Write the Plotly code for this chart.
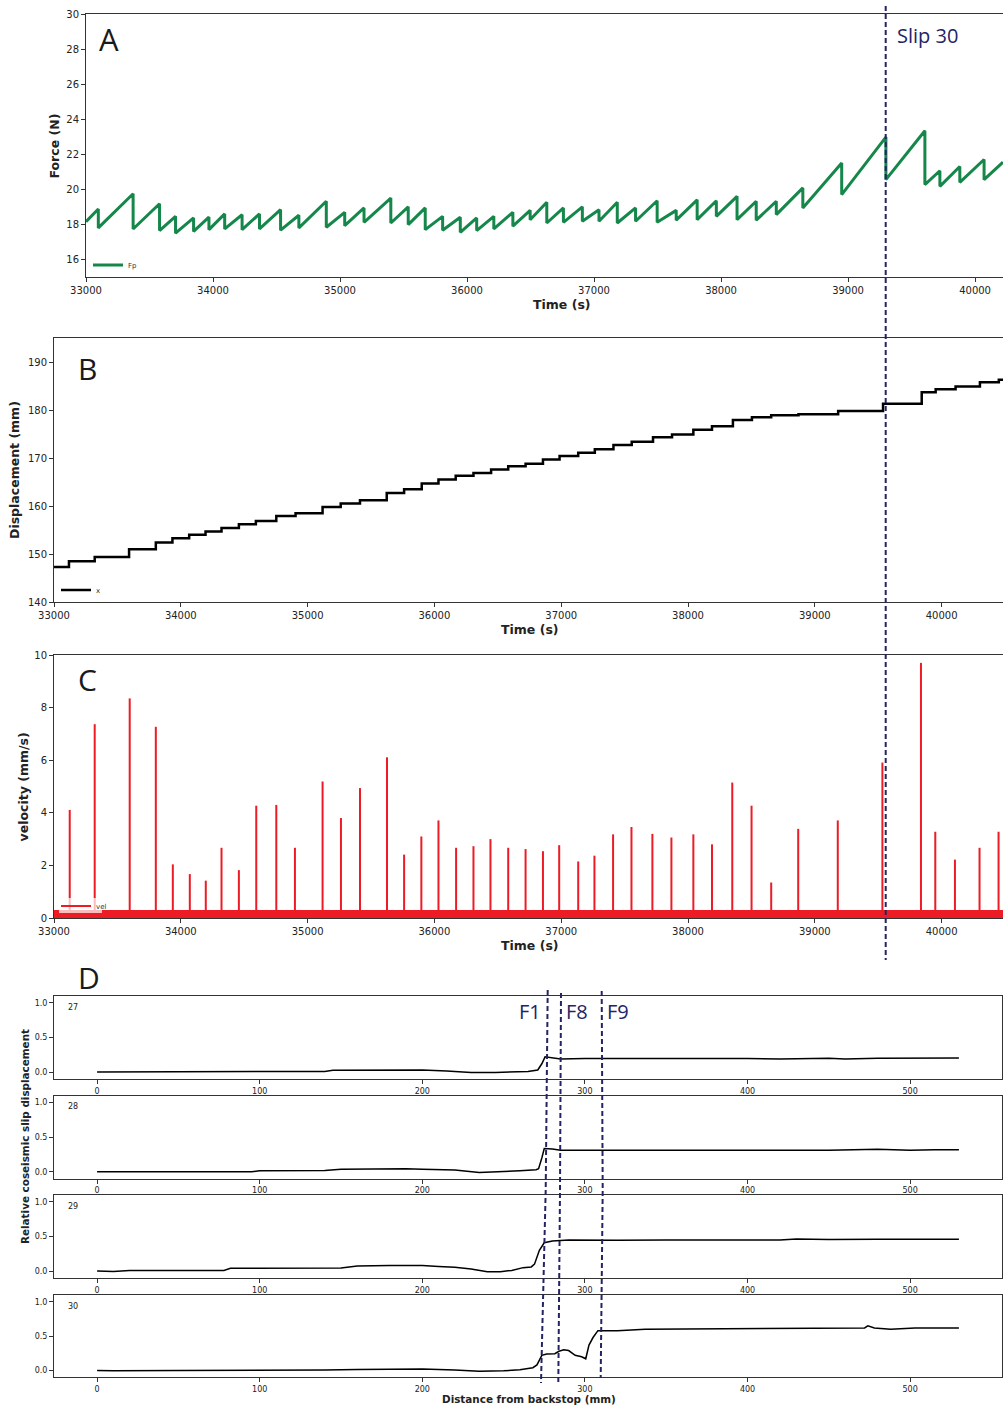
import plotly.graph_objects as go

# ---------------- DATA ----------------
# Panel A : shear force Fp (stick-slip saw-tooth), peak before each slip and value after the drop
fp_start_time, fp_start_force = 33000, 18.15
fp_end_time, fp_end_force = 40220, 21.55
fp_peak_time = [33097, 33371, 33579, 33705, 33847, 33968, 34092, 34229, 34366, 34532,
                34676, 34892, 35037, 35189, 35400, 35537, 35671, 35808, 35947, 36076,
                36211, 36361, 36497, 36628, 36759, 36908, 37039, 37183, 37327, 37497,
                37647, 37812, 37963, 38126, 38277, 38435, 38644, 38950, 39298, 39605,
                39723, 39880, 40071]
fp_peak_force = [18.88, 19.75, 19.18, 18.46, 18.37, 18.42, 18.6, 18.55, 18.6, 18.84,
                 18.52, 19.32, 18.69, 18.94, 19.5, 19.0, 18.94, 18.46, 18.41, 18.37,
                 18.46, 18.69, 18.8, 19.26, 18.94, 19.0, 18.84, 19.26, 18.94, 19.35,
                 18.8, 19.4, 19.35, 19.6, 19.32, 19.32, 20.08, 21.5, 22.98, 23.34,
                 21.06, 21.3, 21.7]
fp_drop_force = [17.8, 17.74, 17.65, 17.5, 17.6, 17.7, 17.74, 17.7, 17.74, 17.67,
                 17.8, 17.84, 17.93, 18.12, 18.08, 17.99, 17.7, 17.67, 17.55, 17.65,
                 17.74, 17.9, 18.27, 18.08, 18.12, 18.18, 18.18, 18.08, 18.18, 18.12,
                 18.24, 18.27, 18.46, 18.27, 18.24, 18.56, 18.94, 19.7, 20.55, 20.27,
                 20.17, 20.4, 20.55]

# Panel B : displacement x (staircase) - start time of each level and level
x_step_time = [33000, 33118, 33321, 33592, 33803, 33934, 34066, 34195, 34321, 34458,
               34592, 34753, 34905, 35118, 35261, 35413, 35624, 35761, 35900, 36032,
               36168, 36308, 36447, 36582, 36719, 36856, 36987, 37134, 37265, 37412,
               37556, 37724, 37874, 38042, 38189, 38354, 38504, 38656, 38871, 39184,
               39538, 39843, 39953, 40110, 40302, 40451]
x_level = [147.3, 148.5, 149.4, 151.0, 152.4, 153.3, 154.0, 154.7, 155.4, 156.2,
           156.9, 157.9, 158.5, 159.8, 160.5, 161.2, 162.7, 163.5, 164.7, 165.5,
           166.3, 166.9, 167.6, 168.3, 168.8, 169.7, 170.4, 171.1, 171.8, 172.7,
           173.4, 174.3, 174.9, 175.9, 176.6, 177.9, 178.5, 178.9, 179.1, 179.8,
           181.3, 183.7, 184.3, 184.9, 185.8, 186.3]
x_end_time = 40484

# Panel C : velocity spikes and background noise level
vel_spike_time = [33124, 33321, 33597, 33803, 33937, 34071, 34197, 34321, 34458,
                  34595, 34753, 34900, 35118, 35263, 35413, 35626, 35761, 35897, 36032,
                  36171, 36308, 36442, 36582, 36719, 36856, 36984, 37134, 37262, 37409,
                  37554, 37719, 37869, 38042, 38189, 38349, 38501, 38656, 38869, 39181,
                  39533, 39837, 39950, 40105, 40299, 40449]
vel_spike_value = [4.11, 7.37, 8.35, 7.27, 2.04, 1.67, 1.42, 2.67, 1.82,
                   4.27, 4.30, 2.67, 5.19, 3.80, 4.94, 6.11, 2.41, 3.10, 3.71,
                   2.67, 2.73, 3.00, 2.67, 2.62, 2.54, 2.77, 2.15, 2.37, 3.18,
                   3.46, 3.20, 3.06, 3.18, 2.80, 5.15, 4.27, 1.35, 3.39, 3.71,
                   5.91, 9.70, 3.28, 2.22, 2.67, 3.28]
vel_noise_time = [33000, 40484]
vel_noise_value = [0.27, 0.27]

# Panel D : relative coseismic slip displacement vs distance from backstop
slip_labels = ["27", "28", "29", "30"]
slip27_x = [0, 20, 60, 100, 140, 145, 160, 180, 200, 215, 230, 245, 255, 265, 271, 273.5, 275.5,
            278, 285, 300, 330, 360, 400, 420, 450, 460, 480, 500, 515, 530]
slip27_y = [0.0, 0.0, 0.0, 0.005, 0.01, 0.025, 0.025, 0.03, 0.03, 0.015, -0.005, -0.005, 0.005,
            0.01, 0.03, 0.12, 0.22, 0.21, 0.19, 0.195, 0.19, 0.195, 0.195, 0.19, 0.2, 0.19, 0.2,
            0.205, 0.2, 0.205]
slip28_x = [0, 50, 95, 100, 140, 150, 165, 190, 200, 220, 235, 250, 260, 270, 271.5, 273.5, 275,
            280, 285, 300, 350, 400, 450, 480, 500, 515, 530]
slip28_y = [0.0, 0.0, 0.0, 0.015, 0.02, 0.035, 0.04, 0.045, 0.035, 0.025, -0.01, 0.0, 0.015, 0.03,
            0.045, 0.2, 0.335, 0.33, 0.31, 0.31, 0.31, 0.315, 0.31, 0.325, 0.31, 0.32, 0.32]
slip29_x = [0, 10, 20, 50, 78, 82, 90, 100, 140, 150, 155, 160, 180, 200, 210, 220, 230, 240, 248,
            255, 262, 267, 269, 272, 275, 280, 290, 300, 320, 350, 400, 420, 430, 450, 480, 500,
            515, 530]
slip29_y = [0.0, -0.005, 0.01, 0.01, 0.01, 0.04, 0.04, 0.045, 0.045, 0.045, 0.06, 0.075, 0.08,
            0.08, 0.065, 0.055, 0.03, -0.01, -0.01, 0.01, 0.05, 0.06, 0.1, 0.3, 0.41, 0.435, 0.45,
            0.445, 0.445, 0.45, 0.445, 0.45, 0.465, 0.455, 0.46, 0.465, 0.46, 0.46]
slip30_x = [0, 10, 50, 100, 140, 160, 190, 200, 220, 235, 250, 260, 268, 270.5, 273.5, 276.5,
            281.5, 284, 287, 290, 294, 298, 300.5, 302.5, 305, 308, 310, 320, 337, 370, 400, 440,
            472, 474, 478, 488, 503, 518, 530]
slip30_y = [0.0, -0.005, 0.0, 0.0, 0.005, 0.015, 0.025, 0.02, 0.005, -0.01, -0.005, 0.01, 0.04,
            0.08, 0.22, 0.24, 0.245, 0.28, 0.3, 0.29, 0.22, 0.2, 0.17, 0.37, 0.48, 0.58, 0.58,
            0.58, 0.6, 0.605, 0.61, 0.615, 0.62, 0.65, 0.62, 0.6, 0.62, 0.62, 0.62]

time_ticks = [33000, 34000, 35000, 36000, 37000, 38000, 39000, 40000]
force_ticks = [16, 18, 20, 22, 24, 26, 28, 30]
disp_ticks = [140, 150, 160, 170, 180, 190]
vel_ticks = [0, 2, 4, 6, 8, 10]
dist_ticks = [0, 100, 200, 300, 400, 500]
slip_ticks = [0.0, 0.5, 1.0]

# ---------------- LAYOUT HELPERS ----------------
W, H = 1003, 1408
def px(x):
    return x / W
def py(y):
    return 1 - y / H

GREEN = "#16874a"
RED = "#ed1c24"
NAVY = "#232366"
FONT = "DejaVu Sans"

fig = go.Figure()

# Panel A trace
ta, fa = [fp_start_time], [fp_start_force]
for t, p, d in zip(fp_peak_time, fp_peak_force, fp_drop_force):
    ta += [t, t]
    fa += [p, d]
ta.append(fp_end_time)
fa.append(fp_end_force)
fig.add_trace(go.Scatter(x=ta, y=fa, mode="lines", name="Fp",
                         line=dict(color=GREEN, width=3), xaxis="x", yaxis="y",
                         legend="legend"))

# Panel B trace
fig.add_trace(go.Scatter(x=x_step_time + [x_end_time], y=x_level + [x_level[-1]],
                         mode="lines", name="x", line=dict(color="black", width=2.5, shape="hv"),
                         xaxis="x2", yaxis="y2", legend="legend2"))

# Panel C traces
fig.add_trace(go.Scatter(x=vel_noise_time, y=vel_noise_value, mode="lines", fill="tozeroy",
                         fillcolor=RED, line=dict(color=RED, width=2), showlegend=False,
                         xaxis="x3", yaxis="y3"))
sx, sy = [], []
for t, v in zip(vel_spike_time, vel_spike_value):
    sx += [t, t, None]
    sy += [0, v, None]
fig.add_trace(go.Scatter(x=sx, y=sy, mode="lines", name="vel", line=dict(color=RED, width=2),
                         xaxis="x3", yaxis="y3", legend="legend3"))

# Panel D traces
slip_series = [(slip27_x, slip27_y), (slip28_x, slip28_y), (slip29_x, slip29_y), (slip30_x, slip30_y)]
for i, (sxv, syv) in enumerate(slip_series):
    fig.add_trace(go.Scatter(x=sxv, y=syv, mode="lines", line=dict(color="black", width=1.5),
                             showlegend=False, xaxis=f"x{4+i}", yaxis=f"y{4+i}"))

common = dict(showgrid=False, zeroline=False, showline=True, linecolor="#333", linewidth=1,
              ticks="outside", ticklen=4, tickwidth=1, tickcolor="#333", automargin=False)
tfont = dict(family=FONT, size=10, color="#222")
dfont = dict(family=FONT, size=8, color="#222")
lfont = dict(family=FONT, size=7, color="#333")

layout = dict(
    width=W, height=H,
    margin=dict(l=0, r=0, t=0, b=0, pad=0, autoexpand=False),
    paper_bgcolor="white", plot_bgcolor="white",
    font=dict(family=FONT, color="#222"),
    xaxis=dict(common, domain=[px(86), 1], range=[33000, 40220], tickvals=time_ticks,
               tickformat="d", tickfont=tfont, anchor="y", mirror=True),
    yaxis=dict(common, domain=[py(277), py(14)], range=[15, 30], tickvals=force_ticks,
               tickfont=tfont, anchor="x"),
    xaxis2=dict(common, domain=[px(54), 1], range=[33000, 40484], tickvals=time_ticks,
                tickformat="d", tickfont=tfont, anchor="y2", mirror=True),
    yaxis2=dict(common, domain=[py(602), py(338)], range=[140, 195], tickvals=disp_ticks,
                tickfont=tfont, anchor="x2"),
    xaxis3=dict(common, domain=[px(54), 1], range=[33000, 40484], tickvals=time_ticks,
                tickformat="d", tickfont=tfont, anchor="y3", mirror=True),
    yaxis3=dict(common, domain=[py(918), py(655)], range=[0, 10], tickvals=vel_ticks,
                tickfont=tfont, anchor="x3"),
    legend=dict(x=px(88), y=py(265), xanchor="left", yanchor="middle",
                font=lfont, bgcolor="rgba(0,0,0,0)", itemwidth=30),
    legend2=dict(x=px(56), y=py(590), xanchor="left", yanchor="middle",
                 font=lfont, bgcolor="rgba(0,0,0,0)", itemwidth=30),
    legend3=dict(x=px(56), y=py(906), xanchor="left", yanchor="middle",
                 font=lfont, bgcolor="rgba(0,0,0,0)", itemwidth=30),
)

d_tops = [996, 1095.7, 1195, 1295]
d_bots = [1079, 1178.7, 1278, 1377.3]
for i in range(4):
    n = 4 + i
    layout[f"xaxis{n}"] = dict(common, domain=[px(54), px(1002)], range=[-26.5, 556.5],
                               tickvals=dist_ticks, tickfont=dfont, anchor=f"y{n}", mirror=True)
    layout[f"yaxis{n}"] = dict(common, domain=[py(d_bots[i]), py(d_tops[i])], range=[-0.1, 1.1],
                               tickvals=slip_ticks, tickformat=".1f", tickfont=dfont,
                               anchor=f"x{n}", mirror=True)

fig.update_layout(**layout)

# ---------------- ANNOTATIONS ----------------
ann = []
def text(x, y, s, size, color="#222", bold=False, angle=0, family=FONT, xanchor="center"):
    ann.append(dict(x=px(x), y=py(y), xref="paper", yref="paper", text=s, showarrow=False,
                    xanchor=xanchor, yanchor="middle", textangle=angle,
                    font=dict(family=family, size=size, color=color,
                              weight="bold" if bold else "normal")))

# axis titles
text(53.5, 146, "Force (N)", 12.5, bold=True, angle=-90)
text(562, 305, "Time (s)", 12.5, bold=True)
text(15, 470, "Displacement (mm)", 12.5, bold=True, angle=-90)
text(530, 629, "Time (s)", 12.5, bold=True)
text(22.5, 787, "velocity (mm/s)", 12.5, bold=True, angle=-90)
text(530, 945, "Time (s)", 12.5, bold=True)
text(25, 1137, "Relative coseismic slip displacement", 10.4, bold=True, angle=-90)
text(528.7, 1399, "Distance from backstop (mm)", 10.4, bold=True)

# panel letters
LFONT = "Open Sans"
text(108.5, 39, "A", 31, color="#1a1a1a", family=LFONT)
text(87, 368.5, "B", 30, color="#1a1a1a", family=LFONT)
text(87.5, 679.5, "C", 30, color="#1a1a1a", family=LFONT)
text(89, 977, "D", 30, color="#1a1a1a", family=LFONT)
text(927, 36, "Slip 30", 20, color=NAVY, family=LFONT)
text(530, 1011, "F1", 20, color=NAVY, family=LFONT)
text(577, 1011, "F8", 20, color=NAVY, family=LFONT)
text(618, 1011, "F9", 20, color=NAVY, family=LFONT)

for i, lab in enumerate(slip_labels):
    text(65.5, d_tops[i] + 11, lab, 8, xanchor="left")

fig.update_layout(annotations=ann)

# ---------------- SHAPES (dashed markers, legend box) ----------------
def path(points):
    return "M " + " L ".join(f"{px(x):.5f},{py(y):.5f}" for x, y in points)

dash_line = dict(color=NAVY, width=2, dash="5px,3px")
shapes = [
    dict(type="rect", xref="paper", yref="paper", x0=px(59), x1=px(102), y0=py(913), y1=py(898),
         fillcolor="rgba(255,255,255,0.7)", line=dict(width=0), layer="above"),
    dict(type="line", xref="paper", yref="paper", x0=px(885.7), x1=px(885.7),
         y0=py(6), y1=py(960), line=dash_line),
    dict(type="path", xref="paper", yref="paper", path=path([(547.7, 990), (545.7, 1190), (541, 1383)]),
         line=dash_line),
    dict(type="path", xref="paper", yref="paper", path=path([(561, 993), (560, 1190), (558.3, 1383)]),
         line=dash_line),
    dict(type="path", xref="paper", yref="paper", path=path([(601.7, 991), (602.7, 1190), (600.7, 1378)]),
         line=dash_line),
]
fig.update_layout(shapes=shapes)

# remove the default page margin so the figure fills the 1003x1408 window exactly
fig.write_html("out.html",
               config={"displayModeBar": False},
               post_script="document.body.style.margin='0';document.body.style.overflow='hidden';")
